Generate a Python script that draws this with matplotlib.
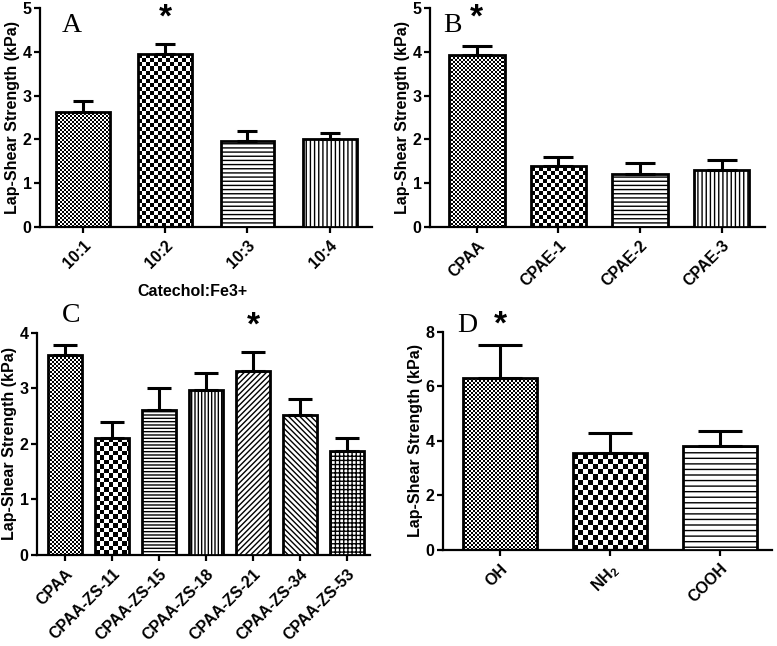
import numpy as np
import matplotlib
matplotlib.use("Agg")
import matplotlib.pyplot as plt

plt.rcParams["font.family"] = "Liberation Sans"
plt.rcParams["font.weight"] = "bold"
plt.rcParams["mathtext.fontset"] = "custom"
plt.rcParams["mathtext.bf"] = "Liberation Sans:bold"
plt.rcParams["mathtext.rm"] = "Liberation Sans:bold"
plt.rcParams["hatch.linewidth"] = 1.0

# panel A
a_labels = ["10:1", "10:2", "10:3", "10:4"]
a_vals = [2.62, 3.96, 1.97, 2.02]
a_errs = [0.26, 0.22, 0.22, 0.12]
a_fills = ["fine", "coarse", "----", "||||"]

# panel B
b_labels = ["CPAA", "CPAE-1", "CPAE-2", "CPAE-3"]
b_vals = [3.92, 1.39, 1.21, 1.31]
b_errs = [0.21, 0.21, 0.25, 0.21]
b_fills = ["fine", "coarse", "----", "||||"]

# panel C
c_labels = ["CPAA", "CPAA-ZS-11", "CPAA-ZS-15", "CPAA-ZS-18",
            "CPAA-ZS-21", "CPAA-ZS-34", "CPAA-ZS-53"]
c_vals = [3.60, 2.11, 2.62, 2.98, 3.32, 2.52, 1.87]
c_errs = [0.19, 0.28, 0.38, 0.29, 0.34, 0.29, 0.24]
c_fills = ["fine", "coarse", "-----", "|||||", "//////", "\\\\\\\\\\\\", "++++"]

# panel D
d_labels = ["OH", r"NH$_\mathbf{2}$", "COOH"]
d_vals = [6.30, 3.57, 3.82]
d_errs = [1.24, 0.73, 0.56]
d_fills = ["fine", "coarse", "---"]

fig = plt.figure(figsize=(7.77, 6.46), dpi=100)


def checker(ax, patch, cell):
    # checkerboard texture clipped to a bar
    x0, y0 = patch.get_x(), patch.get_y()
    w, h = patch.get_width(), patch.get_height()
    p0 = ax.transData.transform((x0, y0))
    p1 = ax.transData.transform((x0 + w, y0 + h))
    nx = int(np.ceil(abs(p1[0] - p0[0]) / cell)) + 1
    ny = int(np.ceil(abs(p1[1] - p0[1]) / cell)) + 1
    dx = w / (abs(p1[0] - p0[0]) / cell)
    dy = h / (abs(p1[1] - p0[1]) / cell)
    ii, jj = np.indices((ny, nx))
    arr = (ii + jj) % 2
    im = ax.imshow(arr, cmap="gray", extent=(x0, x0 + nx * dx, y0, y0 + ny * dy),
                   origin="lower", aspect="auto", interpolation="nearest", zorder=2)
    im.set_clip_path(patch)


def panel(rect, labels, vals, errs, fills, ymax, ystep, xlim, width, capsize,
          fine=2, coarse=4):
    ax = fig.add_axes(rect)
    x = np.arange(len(vals))
    ax.set_xlim(*xlim)
    ax.set_ylim(0, ymax)
    bars = ax.bar(x, vals, width=width, color="white", edgecolor="black",
                  linewidth=2.0, zorder=3)
    for b, f in zip(bars, fills):
        if f in ("fine", "coarse"):
            b.set_facecolor("none")
            checker(ax, b, fine if f == "fine" else coarse)
        else:
            b.set_hatch(f)
    ax.errorbar(x, vals, yerr=[np.zeros(len(vals)), errs], fmt="none", ecolor="black",
                elinewidth=2.2, capsize=capsize, capthick=2.2, zorder=4)
    ax.set_xlim(*xlim)
    ax.set_ylim(0, ymax)
    ax.set_yticks(np.arange(0, ymax + 0.01, ystep))
    ax.set_xticks(x)
    ax.set_xticklabels(labels, rotation=45, ha="right", rotation_mode="anchor")
    for s in ["top", "right"]:
        ax.spines[s].set_visible(False)
    for s in ["left", "bottom"]:
        ax.spines[s].set_linewidth(1.6)
    ax.tick_params(direction="out", length=4, width=1.6, labelsize=11.5, pad=2)
    ax.tick_params(axis="x", pad=4)
    ax.set_ylabel("Lap-Shear Strength (kPa)", fontsize=11.5, fontweight="bold", labelpad=2)
    return ax


ax_a = panel([0.0515, 0.6486, 0.427, 0.339], a_labels, a_vals, a_errs, a_fills,
             5, 1, (-0.52, 3.51), 0.65, 7.5)
ax_a.set_xlabel("Catechol:Fe3+", fontsize=11.5, fontweight="bold", labelpad=2)
ax_a.xaxis.set_label_coords(0.46, -0.26)
ax_a.text(0.066, 0.89, "A", transform=ax_a.transAxes, family="Liberation Serif",
          fontweight="normal", fontsize=20)
ax_a.annotate("*", xy=(1, 0.955), xycoords=("data", "axes fraction"), ha="center",
              va="center", fontsize=24)

ax_b = panel([0.5534, 0.6486, 0.431, 0.339], b_labels, b_vals, b_errs, b_fills,
             5, 1, (-0.575, 3.53), 0.68, 10.5)
ax_b.text(0.039, 0.89, "B", transform=ax_b.transAxes, family="Liberation Serif",
          fontweight="normal", fontsize=20)
ax_b.annotate("*", xy=(0, 0.955), xycoords=("data", "axes fraction"), ha="center",
              va="center", fontsize=24)

ax_c = panel([0.0476, 0.1409, 0.4286, 0.3437], c_labels, c_vals, c_errs, c_fills,
             4, 1, (-0.6, 6.49), 0.72, 8.5, fine=2, coarse=4.5)
ax_c.text(0.075, 1.05, "C", transform=ax_c.transAxes, family="Liberation Serif",
          fontweight="normal", fontsize=20)
ax_c.annotate("*", xy=(4, 1.03), xycoords=("data", "axes fraction"), ha="center",
              va="center", fontsize=24)

ax_d = panel([0.5701, 0.1486, 0.4234, 0.3375], d_labels, d_vals, d_errs, d_fills,
             8, 2, (-0.52, 2.47), 0.67, 16, fine=2, coarse=5)
ax_d.text(0.043, 1.0, "D", transform=ax_d.transAxes, family="Liberation Serif",
          fontweight="normal", fontsize=20)
ax_d.annotate("*", xy=(0, 1.03), xycoords=("data", "axes fraction"), ha="center",
              va="center", fontsize=24)

fig.savefig("out.png", dpi=100)
